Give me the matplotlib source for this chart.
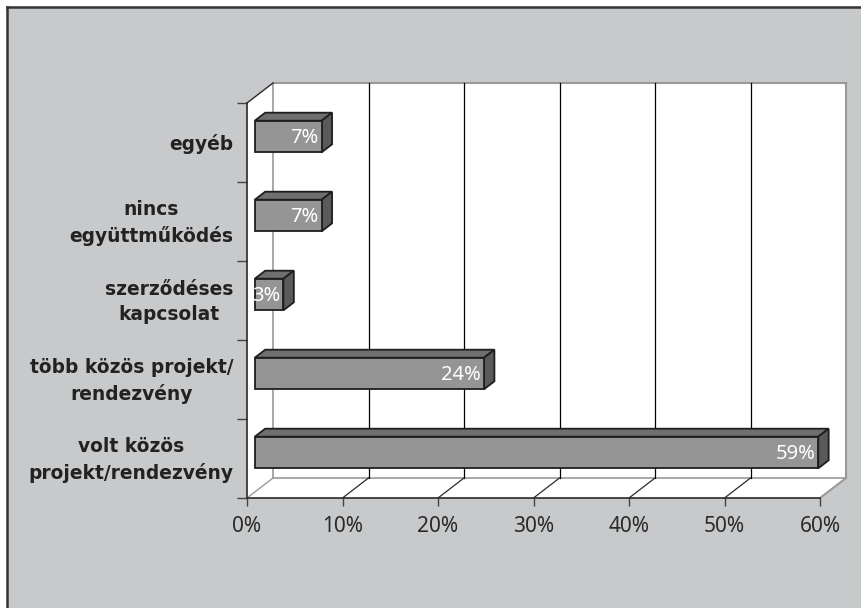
import matplotlib.pyplot as plt
from matplotlib.patches import Polygon, Rectangle
from matplotlib.lines import Line2D

categories = ["volt közös\nprojekt/rendezvény", "több közös projekt/\nrendezvény",
              "szerződéses\nkapcsolat", "nincs\negyüttműködés", "egyéb"]
values = [59, 24, 3, 7, 7]
labels = ["59%", "24%", "3%", "7%", "7%"]
xticks = [0, 10, 20, 30, 40, 50, 60]
xticklabels = ["0%", "10%", "20%", "30%", "40%", "50%", "60%"]

W, H = 861, 608
BG = "#c8c9cb"
DARK = "#2a2a2a"
WALL_EDGE = "#9a9a9a"
NUMFONT = "Noto Sans"

fig = plt.figure(figsize=(W / 100, H / 100), dpi=100, facecolor="white")

# grey panel with dark left/top border
fig.add_artist(Rectangle((7 / W, 0), 1, 1 - 7 / H, transform=fig.transFigure,
                         facecolor=BG, edgecolor="none", zorder=0))
fig.add_artist(Line2D([7 / W, 7 / W], [0, 1 - 7 / H], transform=fig.transFigure,
                      color="#333333", lw=1.8))
fig.add_artist(Line2D([7 / W, 1], [1 - 7 / H, 1 - 7 / H], transform=fig.transFigure,
                      color="#333333", lw=1.8))

# front face of the 3D box
ax = fig.add_axes([247 / W, 110 / H, 573 / W, 395 / H])
ax.set_facecolor("none")
xmax = 60
ncat = len(categories)
ax.set_xlim(0, xmax)
ax.set_ylim(0, ncat)

# depth offset (data units) for full wall depth
DX = 26 / (573 / xmax)
DY = 20 / (395 / ncat)


def P(x, y, d):
    return (x + d * DX, y + d * DY)


# walls
walls = [
    [P(0, 0, 1), P(xmax, 0, 1), P(xmax, ncat, 1), P(0, ncat, 1)],
    [P(0, 0, 0), P(0, 0, 1), P(0, ncat, 1), P(0, ncat, 0)],
    [P(0, 0, 0), P(xmax, 0, 0), P(xmax, 0, 1), P(0, 0, 1)],
]
for w in walls:
    ax.add_patch(Polygon(w, closed=True, facecolor="white", edgecolor="none",
                         clip_on=False, zorder=0.5))


def seg(a, b, **kw):
    ax.add_line(Line2D([a[0], b[0]], [a[1], b[1]], clip_on=False, **kw))


# wall edges
seg(P(0, 0, 1), P(0, ncat, 1), color=WALL_EDGE, lw=1.2, zorder=1)
seg(P(0, ncat, 1), P(xmax, ncat, 1), color=WALL_EDGE, lw=1.5, zorder=1)
seg(P(xmax, ncat, 1), P(xmax, 0, 1), color=WALL_EDGE, lw=1.5, zorder=1)
seg(P(0, 0, 1), P(xmax, 0, 1), color=WALL_EDGE, lw=1.2, zorder=1)
seg(P(xmax, 0, 0), P(xmax, 0, 1), color=WALL_EDGE, lw=1.5, zorder=1)
seg(P(0, 0, 0), P(0, 0, 1), color=WALL_EDGE, lw=1.0, zorder=1)
seg(P(0, ncat, 0), P(0, ncat, 1), color=DARK, lw=1.0, zorder=1)

# gridlines on back wall and floor
for x in xticks[1:-1]:
    seg(P(x, 0, 1), P(x, ncat, 1), color="black", lw=0.9, zorder=1)
    seg(P(x, 0, 0), P(x, 0, 1), color=DARK, lw=0.9, zorder=1)

# bars
d0, d1 = 0.3, 0.7
bh = 0.4
for i, (v, lab) in enumerate(zip(values, labels)):
    c = i + 0.5
    lo, hi = c - bh / 2, c + bh / 2
    front = [P(0, lo, d0), P(v, lo, d0), P(v, hi, d0), P(0, hi, d0)]
    top = [P(0, hi, d0), P(v, hi, d0), P(v, hi, d1), P(0, hi, d1)]
    side = [P(v, lo, d0), P(v, hi, d0), P(v, hi, d1), P(v, lo, d1)]
    for poly, col in [(top, "#6f6f6f"), (side, "#5a5a5a"), (front, "#959595")]:
        ax.add_patch(Polygon(poly, closed=True, facecolor=col, edgecolor="#1e1e1e",
                             lw=1.3, joinstyle="miter", clip_on=False, zorder=3))
    tx, ty = P(v, c, d0)
    ax.text(tx - 0.3, ty - 0.02, lab, ha="right", va="center", color="white",
            fontsize=14.5, family=NUMFONT, zorder=4, clip_on=False)

# category labels
for i, cat in enumerate(categories):
    ax.text(-1.45, i + 0.48, cat, ha="right", va="center", ma="center",
            fontsize=13.4, fontweight="bold", family="DejaVu Sans",
            color="#222222", linespacing=1.4)

# axes, ticks
for s in ["top", "right"]:
    ax.spines[s].set_visible(False)
for s in ["left", "bottom"]:
    ax.spines[s].set_color(DARK)
    ax.spines[s].set_linewidth(1.2)
ax.set_xticks(xticks)
ax.set_xticklabels(xticklabels, family=NUMFONT, fontsize=15, color="#2a2a2a")
ax.set_yticks(range(ncat + 1))
ax.set_yticklabels([])
ax.tick_params(axis="x", direction="out", length=6, width=1, color="#444444", pad=7)
ax.tick_params(axis="y", direction="out", length=7, width=1, color="#444444")

fig.savefig("out.png", dpi=100)
